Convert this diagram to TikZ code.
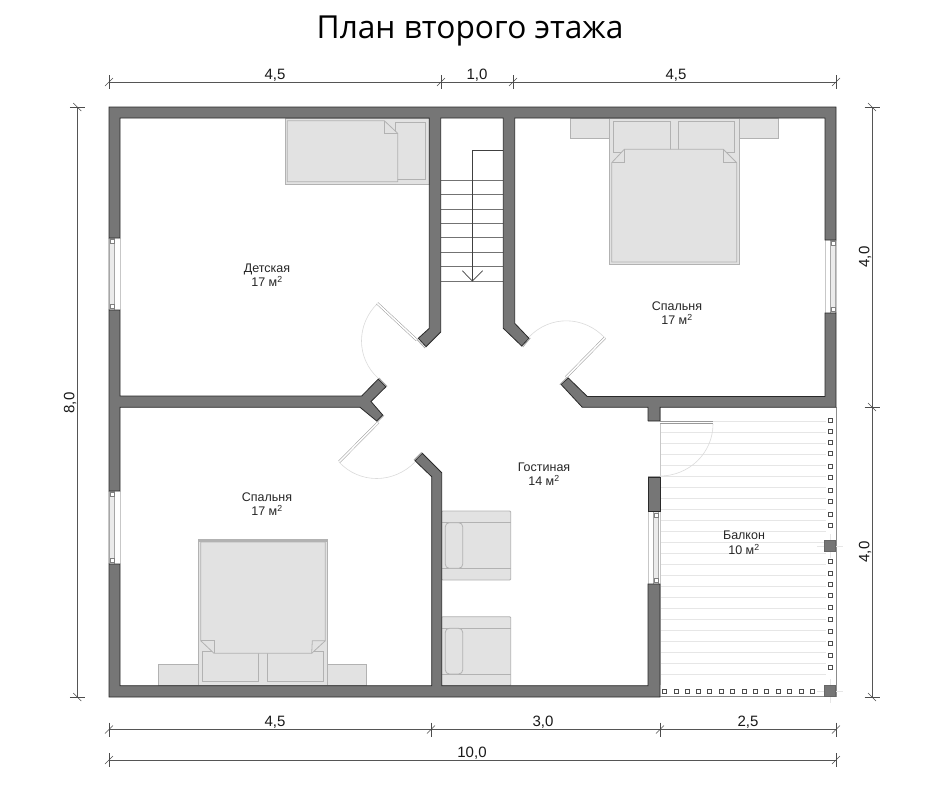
\documentclass[tikz,border=0pt]{standalone}
\usepackage{fontspec}
\setmainfont{Liberation Sans}
\newfontfamily\titlefont{Open Sans}
\definecolor{wallgray}{HTML}{767676}
\definecolor{walledge}{HTML}{2A2A2A}
\definecolor{furnfill}{HTML}{E2E2E2}
\definecolor{furnedge}{HTML}{B2B2B2}
\definecolor{dimline}{HTML}{555555}
\definecolor{hatchline}{HTML}{E6E6E6}
% window in a wall: frame left, frame right, strip centre, y top, y bottom
\newcommand{\planwindow}[5]{
\draw[framelight] (#1,#4) -- (#1,#5);
\draw[framelight] (#2,#4) -- (#2,#5);
\draw[stripline] (#3-2.5,#4) rectangle (#3+2.5,#5);
\draw[jamb] (#3-1.8,#4+1.7) rectangle (#3+1.8,#4+5.3);
\draw[jamb] (#3-1.8,#5-5.3) rectangle (#3+1.8,#5-1.7);
}
\begin{document}
\begin{tikzpicture}[x=1pt,y=-1pt]
\tikzstyle{wall}=[fill=wallgray,draw=walledge,line width=0.8pt,line join=miter]
\tikzstyle{furn}=[fill=furnfill,draw=furnedge,line width=0.8pt]
\tikzstyle{furnline}=[draw=furnedge,line width=0.8pt]
\tikzstyle{framelight}=[draw=black!22,line width=0.7pt]
\tikzstyle{stripline}=[fill=black!8,draw=black!35,line width=0.7pt]
\tikzstyle{jamb}=[fill=white,draw=black!50,line width=0.6pt]
\tikzstyle{post}=[fill=white,draw=black!70,line width=0.6pt]
\tikzstyle{bigpost}=[fill=wallgray,draw=black!60,line width=0.5pt]
\tikzstyle{hatch}=[draw=hatchline,line width=0.6pt]
\tikzstyle{doorleaf}=[draw=black!40,double=white,double distance=1.6pt,line width=0.5pt]
\tikzstyle{doorarc}=[draw=black!14,line width=0.6pt]
\tikzstyle{doorcap}=[draw=black!35,line width=0.8pt]
\tikzstyle{tread}=[draw=black!55,line width=0.7pt]
\tikzstyle{stairline}=[draw=black!75,line width=0.7pt]
\tikzstyle{dimen}=[draw=dimline,line width=0.7pt]
\tikzstyle{dimtick}=[draw=black!70,line width=0.6pt]
\tikzstyle{room}=[align=center,text=black!85,font=\fontsize{12.5}{14.5}\selectfont]
\tikzstyle{dimlabel}=[text=black!90,font=\fontsize{15}{16}\selectfont]
\useasboundingbox (0,0) rectangle (940,796);
\fill[white] (0,0) rectangle (940,796);
% balcony
\foreach \k in {0,...,23} \draw[hatch] (660,421.7+11*\k) -- (826,421.7+11*\k);
\draw[framelight] (660,407) -- (660,685);
\draw[draw=black!45,line width=0.7pt] (836,407) -- (836,696) -- (660,696);
\foreach \y in {420,431.3,442.7,453.7,466.3,477.7,490,501.7,514,525.7,561.3,573,584,595.7,607.7,619.3,631.3,643.3,655.7,667}
\draw[post] (828.3,\y-2) rectangle (832.3,\y+2);
\foreach \x in {664,676,687.3,698.3,709.7,721,732.7,744,755.3,766.7,778.3,789.7,801.3,812.7}
\draw[post] (\x-2,689) rectangle (\x+2,693);
\draw[hatch] (817,546) -- (843,546);
\draw[hatch] (830,534) -- (830,558);
\draw[hatch] (817,691) -- (843,691);
\draw[hatch] (830,679) -- (830,703);
\draw[bigpost] (824.3,540.3) rectangle (835.7,551.7);
\draw[bigpost] (824.3,685.3) rectangle (835.7,696.3);
% single bed
\draw[furn] (285,118.3) rectangle (429.3,184);
\draw[furn] (395,122.3) rectangle (425.7,179.3);
\draw[furn] (287.3,120.7) -- (384.3,120.7) -- (397.7,133.3) -- (397.7,181.7) -- (287.3,181.7) -- cycle;
\draw[furnline] (384.3,120.7) -- (384.3,133.3) -- (397.7,133.3);
% double bed, upper
\draw[furn] (570,118.3) rectangle (609.3,138.7);
\draw[furn] (739,118.3) rectangle (778.3,138.7);
\draw[furn] (609.3,118.3) rectangle (739,264);
\draw[furn] (613.3,121.7) rectangle (670,152);
\draw[furn] (678.3,121.7) rectangle (734.7,152);
\draw[furn] (611.7,162.7) -- (624.3,149.3) -- (723.3,149.3) -- (736.7,162.7) -- (736.7,262) -- (611.7,262) -- cycle;
\draw[furnline] (611.7,162.7) -- (624.3,162.7) -- (624.3,149.3);
\draw[furnline] (736.7,162.7) -- (723.3,162.7) -- (723.3,149.3);
% double bed, lower
\draw[furn] (158.3,664.3) rectangle (198.3,685.7);
\draw[furn] (327.3,664.3) rectangle (366.7,685.7);
\draw[furn] (198.3,539) rectangle (327.3,685.7);
\fill[furnedge] (198.3,539) rectangle (327.3,542);
\draw[furn] (202.3,651) rectangle (258.3,681.7);
\draw[furn] (267,651) rectangle (323.3,681.7);
\draw[furn] (200.7,542) -- (325.3,542) -- (325.3,640.7) -- (311.7,653.3) -- (214,653.3) -- (200.7,640.7) -- cycle;
\draw[furnline] (200.7,640.7) -- (214,640.7) -- (214,653.3);
\draw[furnline] (325.3,640.7) -- (312.3,640.7) -- (311.7,653.3);
% armchairs
\draw[furn,rounded corners=1pt] (441.7,511) rectangle (510.7,580);
\draw[furnline] (441.7,522.7) -- (510.7,522.7);
\draw[furnline] (441.7,568.3) -- (510.7,568.3);
\draw[furn,rounded corners=4pt] (445.3,522.7) rectangle (462.7,568.3);
\draw[furn,rounded corners=1pt] (441.7,616.7) rectangle (510.7,685.7);
\draw[furnline] (441.7,628.3) -- (510.7,628.3);
\draw[furnline] (441.7,674) -- (510.7,674);
\draw[furn,rounded corners=4pt] (445.3,628.3) rectangle (462.7,674);
% stairs
\foreach \y in {180,194.3,209,223.3,237.7,252.3,266.7,281} \draw[tread] (440.7,\y) -- (503.3,\y);
\draw[stairline] (503.3,150) -- (472.3,150) -- (472.3,281);
\draw[stairline] (462.3,270.7) -- (472.3,281) -- (482.7,270.7);
% windows
\planwindow{108.7}{120}{112}{238}{310}
\planwindow{108.7}{120}{112}{491}{564}
\planwindow{825.5}{836}{833}{240}{313}
\planwindow{648}{660}{656}{511.7}{584}
% doors
\draw[doorarc] (378,303) .. controls (356,324) and (356,358) .. (378,378);
\draw[doorarc] (605,338) .. controls (584,315.5) and (550,315) .. (529,337);
\draw[doorarc] (339,462) .. controls (359.4,484) and (393.5,484) .. (415,462);
\draw[doorarc] (713,424) .. controls (713,453) and (689,476) .. (660,476);
\draw[doorleaf] (377.3,303.3) -- (416.7,340);
\draw[doorleaf] (566,377.3) -- (605,337.7);
\draw[doorleaf] (378.3,422.3) -- (339.3,461.7);
\draw[doorleaf] (660,422.3) -- (713.3,422.3);
% walls
\draw[wall] (109,107) -- (836,107) -- (836,240) -- (825,240) -- (825,118) -- (514.7,118) -- (514.7,323.3) -- (529,338.3) -- (521.7,346) -- (503.3,328.3) -- (503.3,118) -- (440.7,118) -- (440.7,332) -- (426,346.7) -- (418.3,338.3) -- (429.3,328.3) -- (429.3,118) -- (120,118) -- (120,238) -- (109,238) -- cycle;
\draw[wall] (109,310) -- (120,310) -- (120,396) -- (361.7,396) -- (378.3,379) -- (386,386.7) -- (371,401.5) -- (382.7,415) -- (376.7,421) -- (360,407.3) -- (120,407.3) -- (120,491) -- (109,491) -- cycle;
\draw[wall] (109,564) -- (120,564) -- (120,685.7) -- (431.7,685.7) -- (431.7,476.7) -- (415,460.7) -- (422.3,453.3) -- (441.7,472.7) -- (441.7,685.7) -- (648,685.7) -- (648,584) -- (660,584) -- (660,697) -- (109,697) -- cycle;
\draw[wall] (836,313) -- (836,407.3) -- (660,407.3) -- (660,420.7) -- (648,420.7) -- (648,407.3) -- (582.3,407.3) -- (561,384.3) -- (568.3,378) -- (587.3,396.5) -- (825,396.5) -- (825,313) -- cycle;
\draw[wall] (648,477) rectangle (660,511.7);
% ends of the door walls
\draw[doorcap] (417,339.5) -- (425,348);
\draw[doorcap] (530.3,338) -- (522.8,347);
\draw[doorcap] (559.8,384.6) -- (567.5,377);
\draw[doorcap] (379,378) -- (387.2,386.5);
\draw[doorcap] (383.9,415.3) -- (377,422.2);
\draw[doorcap] (414,460) -- (421.6,452.3);
\draw[doorcap] (648,421.8) -- (660,421.8);
\draw[doorcap] (648,476) -- (660,476);
% room names
\node[room](detskaya) at (267,275) {Детская\\17 м\textsuperscript{2}};
\node[room](spalnyaup) at (677,313) {Спальня\\17 м\textsuperscript{2}};
\node[room](gostinaya) at (544,474) {Гостиная\\14 м\textsuperscript{2}};
\node[room](spalnyalow) at (267,504) {Спальня\\17 м\textsuperscript{2}};
\node[room](balkon) at (744,543) {Балкон\\10 м\textsuperscript{2}};
% title
\node[font=\titlefont\fontsize{31.7}{36}\selectfont,text=black](title) at (470,31) {План второго этажа};
% dimension points
\coordinate (t0) at (109,82);
\coordinate (t1) at (441,82);
\coordinate (t2) at (513,82);
\coordinate (t3) at (836,82);
\coordinate (b0) at (109,729.5);
\coordinate (b1) at (431,729.5);
\coordinate (b2) at (660,729.5);
\coordinate (b3) at (836,729.5);
\coordinate (w0) at (109,760);
\coordinate (w1) at (836,760);
\coordinate (l0) at (77.3,107);
\coordinate (l1) at (77.3,697);
\coordinate (r0) at (872,107);
\coordinate (r1) at (872,407);
\coordinate (r2) at (872,697);
\draw[dimen] (t0) -- (t3);
\draw[dimen] (b0) -- (b3);
\draw[dimen] (w0) -- (w1);
\draw[dimen] (l0) -- (l1);
\draw[dimen] (r0) -- (r2);
\foreach \p in {t0,t1,t2,t3,b0,b1,b2,b3,w0,w1} {
\draw[dimtick] (\p) +(0,-7) -- +(0,7);
\draw[dimtick] (\p) +(-4,4) -- +(4,-4);
}
\foreach \p in {l0,l1,r0,r1,r2} {
\draw[dimtick] (\p) +(-7.5,0) -- +(7.5,0);
\draw[dimtick] (\p) +(-4,-4) -- +(4,4);
}
\node[dimlabel](d1) at (275,75) {4,5};
\node[dimlabel](d2) at (477,75) {1,0};
\node[dimlabel](d3) at (676,75) {4,5};
\node[dimlabel](d4) at (275,722.5) {4,5};
\node[dimlabel](d5) at (543,722.5) {3,0};
\node[dimlabel](d6) at (748,722.5) {2,5};
\node[dimlabel](d7) at (472,753) {10,0};
\node[dimlabel,rotate=90](d8) at (70,403) {8,0};
\node[dimlabel,rotate=90](d9) at (865,257) {4,0};
\node[dimlabel,rotate=90](d10) at (865,552) {4,0};
\end{tikzpicture}
\end{document}
